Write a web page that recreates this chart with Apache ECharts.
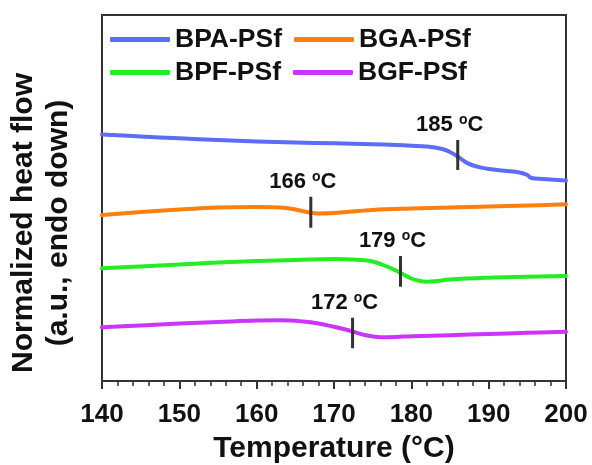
<!DOCTYPE html>
<html>
<head>
<meta charset="utf-8">
<script src="https://cdn.jsdelivr.net/npm/echarts@6/dist/echarts.min.js"></script>
<style>html,body{margin:0;padding:0;background:#fff;}#chart{width:592px;height:465px;}</style>
</head>
<body>
<div id="chart"></div>
<script>
// Temperature (°C) and normalized heat flow (a.u., offset curves)
var seriesNames = ['BPA-PSf', 'BGA-PSf', 'BPF-PSf', 'BGF-PSf'];
var seriesColors = ['#5b6cf7', '#ff7f0e', '#22ee22', '#cc33ff'];

var bpaPSf = [[140,246.5],[145,244.5],[150,242.7],[155,241],[160,239.5],[165,238.5],[170,237.7],[175,236.8],[178,236],[180,235.3],[182,234.5],[184,232],[185,229],[186,224.5],[187,219],[188,215.5],[189,213.5],[190,212],[192,210.2],[194,208.5],[195,206],[195.5,203],[197,202],[200,200.5]];
var bgaPSf = [[140,166],[145,169],[150,171.5],[155,173.5],[160,174],[163,173.5],[165,171.5],[166.5,169],[168,167.5],[170,168],[175,171],[180,172.5],[185,173.5],[190,174.5],[195,175.5],[200,176.7]];
var bpfPSf = [[140,112.7],[145,114.5],[150,116.5],[155,118.5],[160,120],[165,121],[170,122],[173,121.2],[175,119.5],[177,114],[178,110.5],[179,106.5],[180,102.5],[181,100.2],[182,99.3],[183,99.7],[185,101.5],[190,103.3],[195,104.2],[200,105]];
var bgfPSf = [[140,53.7],[145,55.5],[150,57.5],[155,59],[160,60.5],[163,60.7],[166,59.5],[168,57.5],[170,54.2],[172,50.5],[174,46],[176,43.7],[178,44],[180,44.8],[185,45.8],[190,47],[195,48.2],[200,49.3]];

// Glass transition markers: position, vertical span, label
var tgTemps = [186, 167, 178.6, 172.4];
var tgLow = [211, 153.3, 94.3, 32.7];
var tgHigh = [241, 184.3, 125, 63.3];
var tgLabels = ['185', '166', '179', '172'];

var xTicks = [140, 150, 160, 170, 180, 190, 200];

var FONT = '"Liberation Sans", Arial, sans-serif';
var allData = [bpaPSf, bgaPSf, bpfPSf, bgfPSf];

var series = allData.map(function (d, i) {
  return {
    name: seriesNames[i], type: 'line', data: d, symbol: 'none',
    smooth: 0.4,
    lineStyle: { color: seriesColors[i], width: 4, cap: 'round', join: 'round' },
    itemStyle: { color: seriesColors[i] },
    z: 3
  };
});

tgTemps.forEach(function (t, i) {
  series.push({
    type: 'line', symbol: 'circle', symbolSize: 0, showSymbol: true,
    silent: true, z: 4,
    lineStyle: { color: '#333', width: 3 },
    itemStyle: { color: '#333' },
    data: [
      { value: [t, tgLow[i]] },
      { value: [t, tgHigh[i]], label: {
        show: true, position: 'top', distance: 3, offset: [-8, 0],
        formatter: '{n|' + tgLabels[i] + ' }{s|o}{n|C}',
        rich: {
          n: { fontFamily: FONT, fontWeight: 'bold', fontSize: 22, color: '#111' },
          s: { fontFamily: FONT, fontWeight: 'bold', fontSize: 14, color: '#111', verticalAlign: 'top', padding: [0, 0, 10, 0] }
        }
      } }
    ]
  });
});

var legendText = { fontFamily: FONT, fontWeight: 'bold', fontSize: 26.5, color: '#111' };

var chart = echarts.init(document.getElementById('chart'));
chart.setOption({
  backgroundColor: '#fff',
  animation: false,
  grid: { left: 102, top: 15, right: 26, bottom: 84, outerBoundsMode: 'none', containLabel: false, show: true, borderColor: '#333', borderWidth: 2, backgroundColor: 'transparent' },
  legend: [
    { data: [seriesNames[0], seriesNames[1]], left: 110, top: 26, padding: 0, itemGap: 12, icon: 'roundRect', itemWidth: 60, itemHeight: 5, textStyle: legendText },
    { data: [seriesNames[2], seriesNames[3]], left: 110, top: 59, padding: 0, itemGap: 12, icon: 'roundRect', itemWidth: 60, itemHeight: 5, textStyle: legendText }
  ],
  xAxis: {
    type: 'value', min: xTicks[0], max: xTicks[xTicks.length - 1], interval: 10,
    name: 'Temperature (°C)', nameLocation: 'middle', nameGap: 53,
    nameTextStyle: { fontFamily: FONT, fontWeight: 'bold', fontSize: 30, color: '#111' },
    axisLine: { show: true, lineStyle: { color: '#333', width: 2 } },
    axisTick: { show: true, length: 8, lineStyle: { color: '#333', width: 2 } },
    minorTick: { show: true, splitNumber: 5, length: 5, lineStyle: { color: '#333', width: 1.5 } },
    splitLine: { show: false },
    axisLabel: { fontFamily: FONT, fontWeight: 'bold', fontSize: 26, color: '#111', margin: 21 }
  },
  yAxis: {
    type: 'value', min: 0, max: 366,
    name: 'Normalized heat flow\n(a.u., endo down)', nameLocation: 'middle', nameGap: 26, nameRotate: 90,
    nameTextStyle: { fontFamily: FONT, fontWeight: 'bold', fontSize: 30, color: '#111', lineHeight: 35, padding: [0, 50, 0, 0] },
    axisLine: { show: false }, axisTick: { show: false }, axisLabel: { show: false }, splitLine: { show: false }
  },
  series: series
});
</script>
</body>
</html>
